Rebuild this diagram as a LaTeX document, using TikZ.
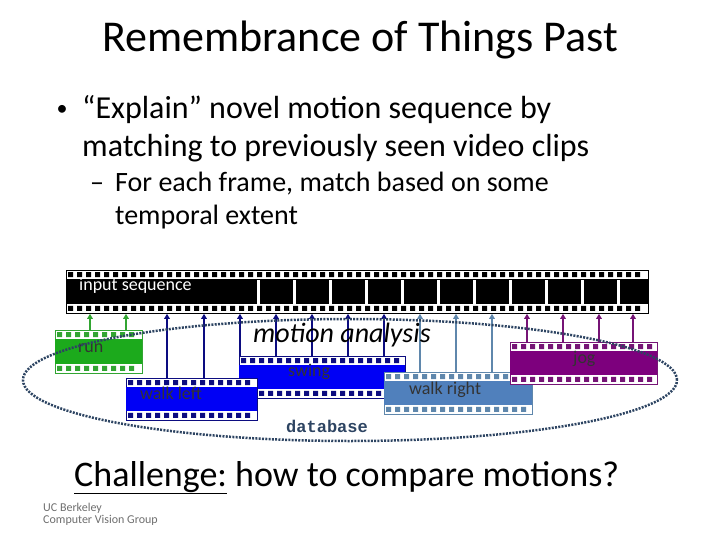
\documentclass[tikz,border=0pt]{standalone}
\usepackage{fontspec}
\setmainfont{Carlito}
\setmonofont{Liberation Mono}
\usepackage{xcolor}
\usetikzlibrary{arrows.meta,shapes.geometric}
\definecolor{runclr}{RGB}{50,165,50}
\definecolor{runband}{RGB}{28,170,28}
\definecolor{navyclr}{RGB}{12,12,128}
\definecolor{blueband}{RGB}{0,0,245}
\definecolor{steelclr}{RGB}{95,135,172}
\definecolor{steelband}{RGB}{80,128,188}
\definecolor{jogclr}{RGB}{118,20,118}
\definecolor{jogband}{RGB}{125,0,125}
\definecolor{dbclr}{RGB}{45,68,98}
\definecolor{footclr}{RGB}{110,110,110}
\tikzset{
  titletext/.style={font=\fontsize{44}{52}\selectfont, inner sep=0pt},
  bodytext/.style={font=\fontsize{32}{38}\selectfont, inner sep=0pt},
  subtext/.style={font=\fontsize{28}{34}\selectfont, inner sep=0pt},
  clipbox/.style={draw, fill=white, line width=0.8pt, inner sep=0pt, anchor=north west},
  cliplabel/.style={font=\fontsize{18}{18}\selectfont, text=black!80, inner sep=0pt, anchor=base west},
  matcharrow/.style={-{Triangle[length=5pt,width=5.5pt]}, line width=1.6pt},
  dbring/.style={draw=dbclr, ellipse, line width=2.5pt, dash pattern=on 2pt off 1.3pt,
                 inner sep=0pt}
}
% film clip: name, x, y, width, height, perforation colour, band colour
\newcommand{\filmclip}[7]{%
  \node[clipbox, draw=#6, minimum width=#4pt, minimum height=#5pt] (#1) at (#2,#3) {};
  \fill[#7] (#2,{#3+0.22*#5}) rectangle ({#2+#4},{#3+0.78*#5});
  \pgfmathtruncatemacro{\nperf}{(#4-7)/9}
  \foreach \k in {0,...,\nperf}
    \fill[#6] ({#2+2.2+9*\k},{#3+2.2}) rectangle ++(5,5)
              ({#2+2.2+9*\k},{#3+#5-7.2}) rectangle ++(5,5);
}

\begin{document}
\begin{tikzpicture}[x=1pt, y=-1pt]
\useasboundingbox (0,0) rectangle (720,540);

\node[titletext, anchor=base] (title) at (360,52) {Remembrance of Things Past};
\node[font=\fontsize{22}{22}\selectfont, anchor=base, inner sep=0pt] (bul) at (62,116) {•};
\node[bodytext, anchor=base west] (line1) at (82,119) {“Explain” novel motion sequence by};
\node[bodytext, anchor=base west] (line2) at (82,157) {matching to previously seen video clips};
\node[subtext, anchor=base west] (dash) at (90,192) {–};
\node[subtext, anchor=base west] (line3) at (115,192) {For each frame, match based on some};
\node[subtext, anchor=base west] (line4) at (115,225) {temporal extent};

% input sequence
\filmclip{input}{66}{270}{582}{43}{black}{black}
\foreach \gx in {257,293,329,365,401,437,473,509,545,581,617}
  \fill[white] (\gx,279.5) rectangle ++(3,24);
\node[cliplabel, text=white] (inlabel) at (79,290) {input sequence};

% database clips
\filmclip{run}{55}{330}{87}{43}{runclr}{runband}
\filmclip{swing}{239}{356}{166}{42}{navyclr}{blueband}
\filmclip{walkleft}{126}{378}{131}{42}{navyclr}{blueband}
\filmclip{walkright}{384}{372}{148}{42}{steelclr}{steelband}
\filmclip{jog}{510}{342}{147}{42}{jogclr}{jogband}
\node[cliplabel] (runlabel) at (78,352) {run};
\node[cliplabel] (swinglabel) at (288,376) {swing};
\node[cliplabel] (wleftlabel) at (140,399) {walk left};
\node[cliplabel] (wrightlabel) at (409,394) {walk right};
\node[cliplabel] (joglabel) at (573,363) {jog};

\foreach \ax in {90,126}
  \draw[matcharrow, runclr] (\ax,0 |- run.north) -- (\ax,0 |- input.south);
\foreach \ax in {167,204}
  \draw[matcharrow, navyclr] (\ax,0 |- walkleft.north) -- (\ax,0 |- input.south);
\foreach \ax in {240,276,312,348,384}
  \draw[matcharrow, navyclr] (\ax,0 |- swing.north) -- (\ax,0 |- input.south);
\foreach \ax in {420,456,492}
  \draw[matcharrow, steelclr] (\ax,0 |- walkright.north) -- (\ax,0 |- input.south);
\foreach \ax in {527,563,599,633}
  \draw[matcharrow, jogclr] (\ax,0 |- jog.north) -- (\ax,0 |- input.south);

\node[font=\itshape\fontsize{28}{28}\selectfont, anchor=base west, inner sep=0pt] (motion) at (253,342) {motion analysis};

\node[dbring, minimum width=654pt, minimum height=122pt] (db) at (350,380) {};
\node[font=\ttfamily\bfseries\fontsize{17}{17}\selectfont, text=dbclr, anchor=base west, inner sep=0pt] (dblabel) at (286,432) {database};

\node[font=\fontsize{36}{40}\selectfont, anchor=base west, inner sep=0pt] (challenge) at (74,486) {\underline{Challenge:} how to compare motions?};
\node[font=\fontsize{12}{12}\selectfont, text=footclr, anchor=base west, inner sep=0pt] (foot1) at (43,511) {UC Berkeley};
\node[font=\fontsize{12}{12}\selectfont, text=footclr, anchor=base west, inner sep=0pt] (foot2) at (43,523) {Computer Vision Group};
\end{tikzpicture}
\end{document}
